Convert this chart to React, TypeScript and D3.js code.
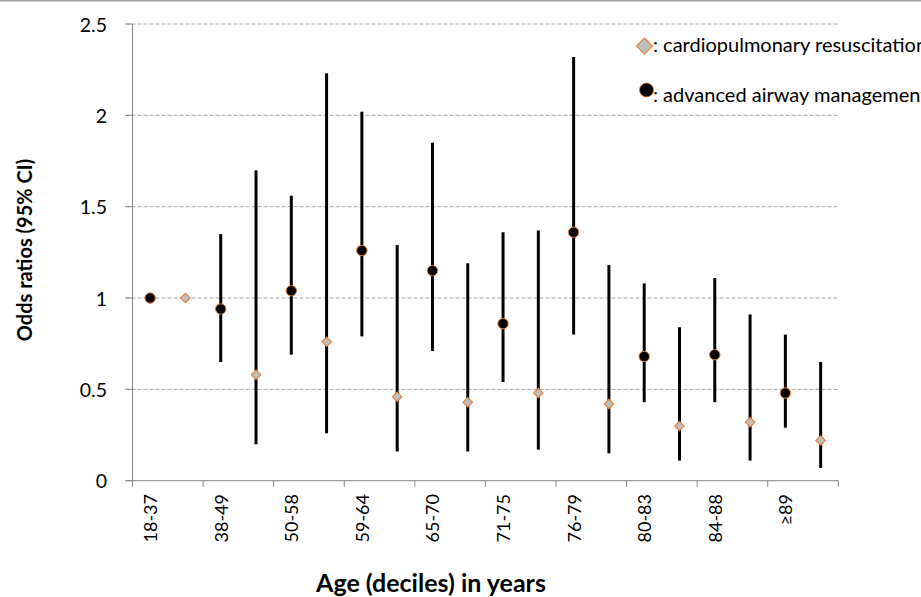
import React, { useEffect, useRef } from 'react';
import * as d3 from 'd3';

const ageGroups = ['18-37', '38-49', '50-58', '59-64', '65-70', '71-75', '76-79', '80-83', '84-88', '≥89'];

// advanced airway management: odds ratio, lower and upper 95% CI
const airwayOR = [1.0, 0.94, 1.04, 1.26, 1.15, 0.86, 1.36, 0.68, 0.69, 0.48];
const airwayLow = [null, 0.65, 0.69, 0.79, 0.71, 0.54, 0.80, 0.43, 0.43, 0.29];
const airwayHigh = [null, 1.35, 1.56, 2.02, 1.85, 1.36, 2.32, 1.08, 1.11, 0.80];

// cardiopulmonary resuscitation
const cprOR = [1.0, 0.58, 0.76, 0.46, 0.43, 0.48, 0.42, 0.30, 0.32, 0.22];
const cprLow = [null, 0.20, 0.26, 0.16, 0.16, 0.17, 0.15, 0.11, 0.11, 0.07];
const cprHigh = [null, 1.70, 2.23, 1.29, 1.19, 1.37, 1.18, 0.84, 0.91, 0.65];

const yTicks = [0, 0.5, 1, 1.5, 2, 2.5];
const seriesNames = ['airway', 'cpr'];

const W = 921;
const H = 597;
const font = "Lato, 'Open Sans', sans-serif";
const orange = '#e8782a';
const gridGray = '#a6a6a6';
const axisGray = '#868686';

function App() {
  const svgRef = useRef(null);

  useEffect(() => {
    const svg = d3.select(svgRef.current);
    svg.selectAll('*').remove();

    const left = 132.5, right = 838.3, top = 24, bottom = 480.7;

    const x = d3.scaleBand().domain(ageGroups).range([left, right]);
    const sub = d3.scaleBand().domain(seriesNames).range([0, x.bandwidth()]);
    const y = d3.scaleLinear().domain([0, 2.5]).range([bottom, top]);

    const cx = (g, s) => x(g) + sub(s) + sub.bandwidth() / 2;

    // top border line
    svg.append('line')
      .attr('x1', 0).attr('x2', W).attr('y1', 0.75).attr('y2', 0.75)
      .attr('stroke', '#a0a0a0').attr('stroke-width', 1.5);

    // grid
    svg.append('g')
      .selectAll('line')
      .data(yTicks.filter(d => d > 0))
      .join('line')
      .attr('x1', left - 7).attr('x2', right)
      .attr('y1', d => y(d)).attr('y2', d => y(d))
      .attr('stroke', gridGray).attr('stroke-width', 1)
      .attr('stroke-dasharray', '4,2');

    // y axis
    const yAxis = svg.append('g');
    yAxis.append('line')
      .attr('x1', left).attr('x2', left).attr('y1', top).attr('y2', bottom)
      .attr('stroke', axisGray);
    yAxis.selectAll('line.tick')
      .data(yTicks)
      .join('line')
      .attr('class', 'tick')
      .attr('x1', left - 7).attr('x2', left)
      .attr('y1', d => y(d)).attr('y2', d => y(d))
      .attr('stroke', axisGray);
    yAxis.selectAll('text')
      .data(yTicks)
      .join('text')
      .attr('x', 107).attr('y', d => y(d))
      .attr('text-anchor', 'end')
      .attr('dominant-baseline', 'central')
      .attr('font-family', font).attr('font-size', 19.5)
      .attr('fill', '#000')
      .text(d => d3.format('~g')(d));

    // x axis
    const xAxis = svg.append('g');
    xAxis.append('line')
      .attr('x1', left - 7).attr('x2', right).attr('y1', bottom).attr('y2', bottom)
      .attr('stroke', axisGray);
    const edges = ageGroups.map(g => x(g)).concat([right]);
    xAxis.selectAll('line.tick')
      .data(edges)
      .join('line')
      .attr('class', 'tick')
      .attr('x1', d => d).attr('x2', d => d)
      .attr('y1', bottom).attr('y2', bottom + 6)
      .attr('stroke', axisGray);
    xAxis.selectAll('text')
      .data(ageGroups)
      .join('text')
      .attr('transform', g => `translate(${cx(g, 'airway')},494) rotate(-90)`)
      .attr('text-anchor', 'end')
      .attr('dominant-baseline', 'central')
      .attr('font-family', font).attr('font-size', 18)
      .text(g => g);

    // error bars + markers
    const rows = ageGroups.map((g, i) => ({
      g,
      airway: { or: airwayOR[i], lo: airwayLow[i], hi: airwayHigh[i] },
      cpr: { or: cprOR[i], lo: cprLow[i], hi: cprHigh[i] },
    }));

    const bars = svg.append('g');
    seriesNames.forEach(s => {
      bars.selectAll(`line.${s}`)
        .data(rows.filter(r => r[s].lo != null))
        .join('line')
        .attr('class', s)
        .attr('x1', r => cx(r.g, s)).attr('x2', r => cx(r.g, s))
        .attr('y1', r => y(r[s].lo)).attr('y2', r => y(r[s].hi))
        .attr('stroke', '#000').attr('stroke-width', 3);
    });

    const diamond = d3.symbol().type(d3.symbolSquare).size(46);
    svg.append('g')
      .selectAll('path')
      .data(rows)
      .join('path')
      .attr('d', diamond)
      .attr('transform', r => `translate(${cx(r.g, 'cpr')},${y(r.cpr.or)}) rotate(45)`)
      .attr('fill', '#bfbfbf').attr('stroke', orange).attr('stroke-width', 1);

    svg.append('g')
      .selectAll('circle')
      .data(rows)
      .join('circle')
      .attr('cx', r => cx(r.g, 'airway')).attr('cy', r => y(r.airway.or))
      .attr('r', 5.2)
      .attr('fill', '#000').attr('stroke', orange).attr('stroke-width', 1);

    // legend (its text runs past the right edge, as in the source figure)
    const legend = svg.append('g');
    legend.append('path')
      .attr('d', d3.symbol().type(d3.symbolSquare).size(128))
      .attr('transform', 'translate(644.5,46) rotate(45)')
      .attr('fill', '#bfbfbf').attr('stroke', orange).attr('stroke-width', 1);
    legend.append('text')
      .attr('x', 653).attr('y', 52)
      .attr('font-family', font).attr('font-size', 20)
      .text(': cardiopulmonary resuscitation');
    legend.append('circle')
      .attr('cx', 646.5).attr('cy', 90).attr('r', 7)
      .attr('fill', '#000').attr('stroke', orange).attr('stroke-width', 0.8);
    legend.append('text')
      .attr('x', 653).attr('y', 102)
      .attr('font-family', font).attr('font-size', 20)
      .text(': advanced airway management');

    // axis titles
    svg.append('text')
      .attr('transform', 'translate(24,250) rotate(-90)')
      .attr('text-anchor', 'middle')
      .attr('dominant-baseline', 'central')
      .attr('font-family', font).attr('font-size', 20).attr('font-weight', 'bold')
      .text('Odds ratios (95% CI)');
    svg.append('text')
      .attr('x', 431).attr('y', 592)
      .attr('text-anchor', 'middle')
      .attr('font-family', font).attr('font-size', 25).attr('font-weight', 'bold')
      .text('Age (deciles) in years');
  }, []);

  return (
    <svg
      ref={svgRef}
      width={W}
      height={H}
      style={{ position: 'absolute', left: 0, top: 0, background: '#fff', overflow: 'hidden' }}
    />
  );
}

export default App;
